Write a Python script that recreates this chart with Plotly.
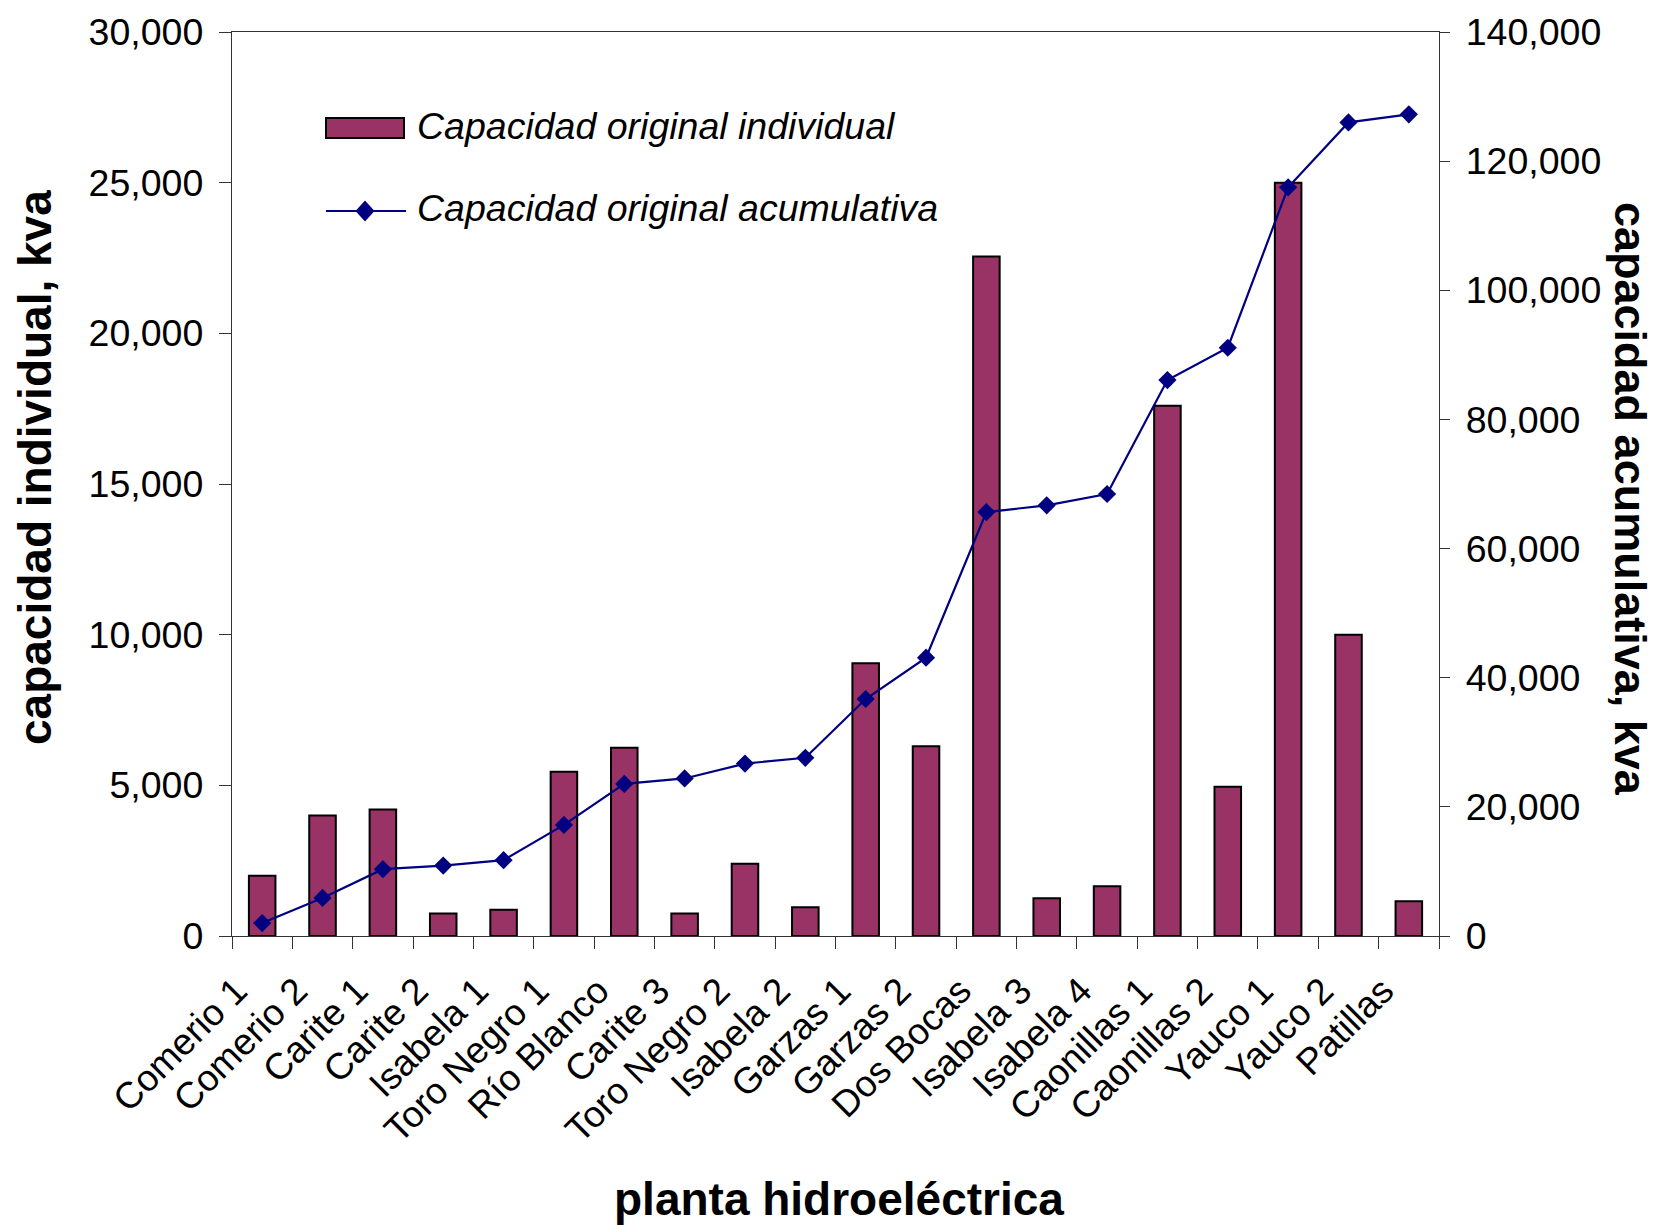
import plotly.graph_objects as go

# Hydroelectric plants, in order of installation
plantas = [
    "Comerio 1", "Comerio 2", "Carite 1", "Carite 2", "Isabela 1",
    "Toro Negro 1", "Río Blanco", "Carite 3", "Toro Negro 2", "Isabela 2",
    "Garzas 1", "Garzas 2", "Dos Bocas", "Isabela 3", "Isabela 4",
    "Caonillas 1", "Caonillas 2", "Yauco 1", "Yauco 2", "Patillas",
]

# Original capacity of each plant (kva)
capacidad_individual = [
    2000, 4000, 4200, 750, 875, 5450, 6250, 750, 2400, 950,
    9050, 6300, 22550, 1250, 1650, 17600, 4950, 25000, 10000, 1150,
]

# Running total of the original capacity (kva)
capacidad_acumulativa = [
    2000, 5900, 10350, 10900, 11750, 17200, 23550, 24400, 26700, 27600,
    36700, 43100, 65650, 66700, 68450, 86100, 91100, 115950, 126000, 127250,
]

ticks_individual = [0, 5000, 10000, 15000, 20000, 25000, 30000]
ticks_acumulativa = [0, 20000, 40000, 60000, 80000, 100000, 120000, 140000]

nombre_barras = "Capacidad original individual"
nombre_linea = "Capacidad original acumulativa"

# ---- page geometry (pixels) ----
W, H = 1661, 1225
ML, MR, MT, MB = 232, 222, 32, 289
PW, PH = W - ML - MR, H - MT - MB


def fx(px):
    """page x pixel -> paper coordinate"""
    return (px - ML) / PW


def fy(py):
    """page y pixel -> paper coordinate"""
    return (MT + PH - py) / PH


FONT = "Liberation Sans, Arial, sans-serif"
AXIS_COLOR = "#333333"
BAR_COLOR = "#993366"
LINE_COLOR = "#000080"

fig = go.Figure()

fig.add_trace(go.Bar(
    x=plantas, y=capacidad_individual, name=nombre_barras,
    marker=dict(color=BAR_COLOR, line=dict(color="black", width=2)),
    xaxis="x", yaxis="y", showlegend=False,
))

fig.add_trace(go.Scatter(
    x=plantas, y=capacidad_acumulativa, name=nombre_linea,
    mode="lines+markers",
    line=dict(color=LINE_COLOR, width=2.2),
    marker=dict(symbol="diamond", size=14, color=LINE_COLOR),
    xaxis="x", yaxis="y2", showlegend=False,
))

tick_common = dict(tickcolor=AXIS_COLOR, tickwidth=1.4)
n = len(plantas)

fig.update_layout(
    width=W, height=H,
    margin=dict(l=ML, r=MR, t=MT, b=MB, pad=0),
    paper_bgcolor="white", plot_bgcolor="white",
    font=dict(family=FONT, color="black", size=37),
    bargap=0.56,
    xaxis=dict(
        type="category", categoryorder="array", categoryarray=plantas,
        range=[-0.5, n - 0.5], tickson="boundaries",
        ticks="outside", ticklen=12, **tick_common,
        showline=True, linecolor=AXIS_COLOR, linewidth=1.4, mirror=True,
        showgrid=False, zeroline=False,
        tickangle=-45, tickfont=dict(size=37),
        ticklabelstandoff=17, ticklabelshift=-26,
        anchor="y",
    ),
    # inner half of the category ticks
    xaxis2=dict(
        overlaying="x", anchor="y", range=[-0.5, n - 0.5],
        tickvals=[i - 0.5 for i in range(n + 1)],
        ticks="inside", ticklen=11, **tick_common,
        showticklabels=False, showline=False, showgrid=False, zeroline=False,
    ),
    yaxis=dict(
        range=[0, 30000], tickvals=ticks_individual, tickformat=",d",
        ticks="outside", ticklen=12, **tick_common,
        showline=True, linecolor=AXIS_COLOR, linewidth=1.4,
        showgrid=False, zeroline=False,
        tickfont=dict(size=37.5), ticklabelstandoff=8,
        anchor="x",
    ),
    yaxis2=dict(
        overlaying="y", side="right", anchor="x",
        range=[0, 140000], tickvals=ticks_acumulativa, tickformat=",d",
        ticks="outside", ticklen=10, **tick_common,
        showline=True, linecolor=AXIS_COLOR, linewidth=1.4,
        showgrid=False, zeroline=False,
        tickfont=dict(size=37.5), ticklabelstandoff=8,
    ),
    # inner halves of the value-axis ticks
    yaxis3=dict(
        overlaying="y", side="left", anchor="x",
        range=[0, 30000], tickvals=ticks_individual,
        ticks="inside", ticklen=11, **tick_common,
        showticklabels=False, showline=False, showgrid=False, zeroline=False,
    ),
    yaxis4=dict(
        overlaying="y", side="right", anchor="x",
        range=[0, 140000], tickvals=ticks_acumulativa,
        ticks="inside", ticklen=11, **tick_common,
        showticklabels=False, showline=False, showgrid=False, zeroline=False,
    ),
)

# ---- axis titles ----
titulo = dict(family=FONT, size=46, color="black")
fig.add_annotation(
    text="<b>planta hidroeléctrica</b>", xref="paper", yref="paper",
    x=fx(839), y=fy(1199), xanchor="center", yanchor="middle",
    showarrow=False, font=titulo,
)
fig.add_annotation(
    text="<b>capacidad individual, kva</b>", xref="paper", yref="paper",
    x=fx(35), y=fy(468), xanchor="center", yanchor="middle", textangle=-90,
    showarrow=False, font=titulo,
)
fig.add_annotation(
    text="<b>capacidad acumulativa, kva</b>", xref="paper", yref="paper",
    x=fx(1631), y=fy(499), xanchor="center", yanchor="middle", textangle=90,
    showarrow=False, font=dict(family=FONT, size=45, color="black"),
)

# ---- legend (drawn inside the plot area) ----
leyenda_font = dict(family=FONT, size=37.5, color="black")
fig.add_shape(
    type="rect", xref="paper", yref="paper",
    x0=fx(326), x1=fx(404), y0=fy(138), y1=fy(118),
    fillcolor=BAR_COLOR, line=dict(color="black", width=2),
)
fig.add_annotation(
    text="<i>" + nombre_barras + "</i>", xref="paper", yref="paper",
    x=fx(415), y=fy(126), xanchor="left", yanchor="middle",
    showarrow=False, font=leyenda_font,
)
fig.add_shape(
    type="line", xref="paper", yref="paper",
    x0=fx(326), x1=fx(406), y0=fy(211), y1=fy(211),
    line=dict(color=LINE_COLOR, width=2.2),
)
cx, cy, hw, hh = 365, 211, 9.5, 10.5
fig.add_shape(
    type="path", xref="paper", yref="paper",
    path=(f"M {fx(cx - hw)} {fy(cy)} L {fx(cx)} {fy(cy - hh)} "
          f"L {fx(cx + hw)} {fy(cy)} L {fx(cx)} {fy(cy + hh)} Z"),
    fillcolor=LINE_COLOR, line=dict(color=LINE_COLOR, width=0),
)
fig.add_annotation(
    text="<i>" + nombre_linea + "</i>", xref="paper", yref="paper",
    x=fx(415), y=fy(208), xanchor="left", yanchor="middle",
    showarrow=False, font=leyenda_font,
)

fig.write_html("out.html")
